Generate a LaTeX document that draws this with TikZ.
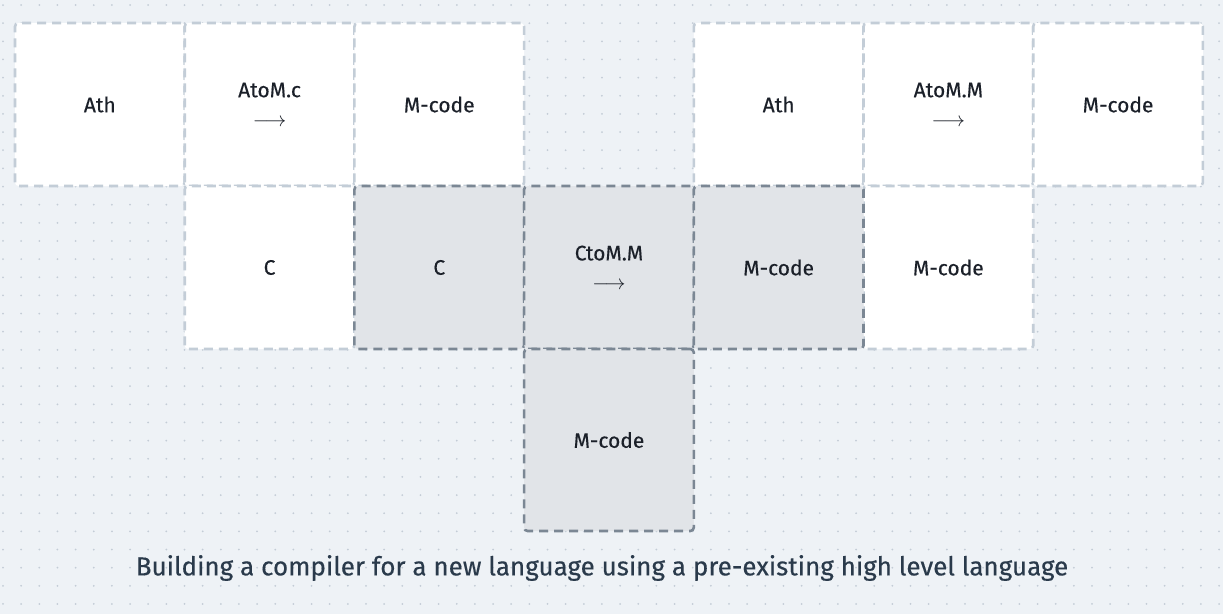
\documentclass[tikz,border=0pt]{standalone}
\usepackage{fontspec}
\setmainfont{Fira Sans}
\newfontfamily\labelfont[FakeBold=0.35]{Fira Sans}
\definecolor{bgc}{HTML}{EEF2F6}
\definecolor{dotc}{HTML}{C3CCD6}
\definecolor{wline}{HTML}{C3CDD7}
\definecolor{gfill}{HTML}{E1E4E8}
\definecolor{gline}{HTML}{7B8794}
\definecolor{txt}{HTML}{1B2029}
\definecolor{captc}{HTML}{2A3A4B}
\tikzset{
  cell/.style={minimum width=169.7pt, minimum height=163pt, inner sep=0pt, rounded corners=3.5pt,
    line width=2.6pt, dash pattern=on 9pt off 6pt, text=txt, font=\labelfont\fontsize{21}{27}\selectfont, align=center},
  wbox/.style={cell, fill=white, draw=wline},
  gbox/.style={cell, fill=gfill, draw=gline},
  tallbox/.style={minimum height=182pt},
  caption/.style={text=captc, font=\labelfont\fontsize{26}{32}\selectfont}
}
\newcommand{\arrowlabel}[1]{#1\\[2pt]$\longrightarrow$}
\begin{document}
\begin{tikzpicture}[x=1pt,y=-1pt]
\fill[bgc] (0,0) rectangle (1223,614);
\useasboundingbox (0,0) rectangle (1223,614);
\foreach \i in {0,...,67} {
  \foreach \j in {0,...,33} {
    \fill[dotc] (3+\i*18.15, 5+\j*18.15) circle (1pt);
  }
}
% white boxes
\node[wbox] (ath1) at (99.85,104.5) {Ath};
\node[wbox] (atomc) at (269.55,104.5) {\arrowlabel{AtoM.c}};
\node[wbox] (mcode1) at (439.25,104.5) {M-code};
\node[wbox] (ath2) at (778.65,104.5) {Ath};
\node[wbox] (atomm) at (948.35,104.5) {\arrowlabel{AtoM.M}};
\node[wbox] (mcode2) at (1118.05,104.5) {M-code};
\node[wbox] (c1) at (269.55,267.5) {C};
\node[wbox] (mcode4) at (948.35,267.5) {M-code};
% gray boxes
\node[gbox] (c2) at (439.25,267.5) {C};
\node[gbox] (ctomm) at (608.95,267.5) {\arrowlabel{CtoM.M}};
\node[gbox] (mcode3) at (778.65,267.5) {M-code};
\node[gbox, tallbox] (mcode5) at (608.95,440) {M-code};
% caption
\node[caption] (cap) at (602,568) {Building a compiler for a new language using a pre-existing high level language};
\end{tikzpicture}
\end{document}
